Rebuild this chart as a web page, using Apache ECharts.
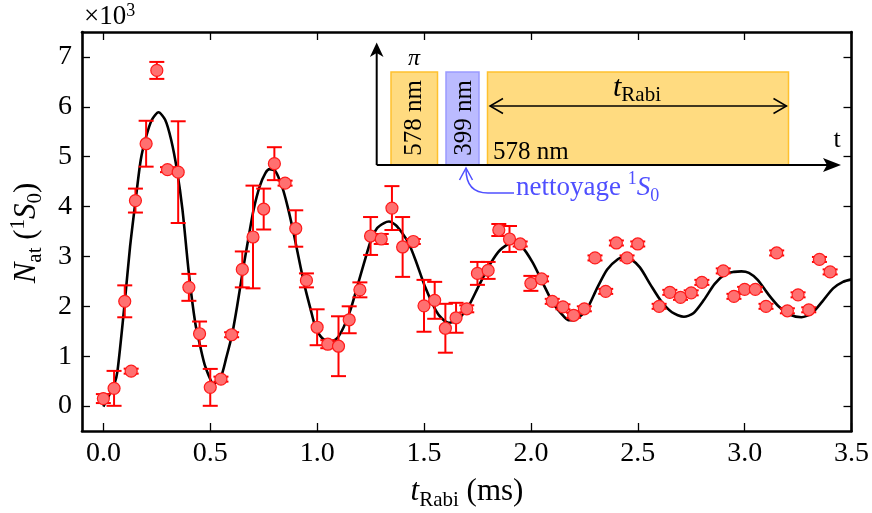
<!DOCTYPE html>
<html><head><meta charset="utf-8">
<script src="https://cdn.jsdelivr.net/npm/echarts@6.0.0/dist/echarts.min.js"></script>
<style>html,body{margin:0;padding:0;background:#fff}#c{width:872px;height:513px}</style>
</head><body><div id="c"></div>
<script>
// measured data (t in ms, N in units of 10^3)
const tData = [0.00,0.05,0.10,0.13,0.15,0.20,0.25,0.30,0.35,0.40,0.45,0.50,0.55,0.60,0.65,0.70,0.75,0.80,0.85,0.90,0.95,1.00,1.05,1.10,1.15,1.20,1.25,1.30,1.35,1.40,1.45,1.50,1.55,1.60,1.65,1.70,1.75,1.80,1.85,1.90,1.95,2.00,2.05,2.10,2.15,2.20,2.25,2.30,2.35,2.40,2.45,2.50,2.60,2.65,2.70,2.75,2.80,2.90,2.95,3.00,3.05,3.10,3.15,3.20,3.25,3.30,3.35,3.40];
const nData = [0.15,0.355,2.10,0.70,4.12,5.26,6.73,4.74,4.69,2.38,1.45,0.375,0.54,1.43,2.74,3.39,3.95,4.86,4.47,3.56,2.52,1.58,1.24,1.20,1.73,2.33,3.41,3.35,3.97,3.19,3.30,2.01,2.12,1.56,1.77,1.95,2.66,2.72,3.53,3.35,3.25,2.46,2.55,2.10,1.99,1.82,1.95,2.97,2.30,3.27,2.97,3.25,2.00,2.28,2.18,2.27,2.48,2.71,2.20,2.34,2.34,2.00,3.07,1.91,2.23,1.93,2.94,2.69];
const nErr = [0.09,0.35,0.32,0.05,0.24,0.46,0.17,0.05,1.02,0.27,0.245,0.37,0.05,0.05,0.36,1.03,0.41,0.33,0.05,0.365,0.14,0.36,0.08,0.60,0.27,0.15,0.38,0.10,0.44,0.60,0.05,0.52,0.37,0.49,0.30,0.07,0.23,0.17,0.12,0.26,0.05,0.15,0.05,0.05,0.05,0.05,0.05,0.05,0.05,0.05,0.05,0.05,0.05,0.05,0.05,0.05,0.05,0.05,0.05,0.05,0.05,0.05,0.05,0.05,0.05,0.05,0.05,0.05];
// fitted curve
const fitT = [0,0.025,0.05,0.066,0.1,0.125,0.15,0.175,0.2,0.227,0.258,0.289,0.317,0.344,0.37,0.40,0.43,0.453,0.477,0.516,0.55,0.575,0.602,0.628,0.653,0.68,0.703,0.731,0.758,0.778,0.805,0.836,0.862,0.89,0.922,0.945,0.969,0.992,1.024,1.063,1.094,1.125,1.156,1.188,1.219,1.25,1.281,1.313,1.336,1.367,1.398,1.43,1.461,1.506,1.555,1.585,1.617,1.655,1.708,1.755,1.81,1.856,1.914,1.957,2.008,2.058,2.106,2.158,2.18,2.21,2.26,2.308,2.357,2.408,2.438,2.46,2.51,2.56,2.61,2.66,2.716,2.76,2.81,2.86,2.911,2.95,2.985,3.02,3.061,3.111,3.161,3.213,3.266,3.314,3.364,3.414,3.46,3.5];
const fitN = [-0.01,0.2,0.42,0.7,2.08,3.2,4.1,4.94,5.4,5.74,5.89,5.74,5.34,4.74,3.94,2.66,1.66,1.2,0.79,0.45,0.59,0.97,1.43,2.06,2.73,3.4,3.94,4.4,4.67,4.75,4.71,4.4,4.0,3.47,2.80,2.35,1.95,1.59,1.36,1.29,1.36,1.59,1.93,2.40,2.86,3.3,3.57,3.67,3.70,3.63,3.47,3.25,2.92,2.38,1.92,1.75,1.67,1.72,2.0,2.4,2.85,3.13,3.28,3.2,2.88,2.45,2.05,1.78,1.72,1.74,1.93,2.35,2.74,2.95,2.99,2.97,2.78,2.43,2.1,1.88,1.79,1.86,2.13,2.45,2.65,2.69,2.70,2.67,2.53,2.24,1.99,1.83,1.78,1.86,2.10,2.36,2.49,2.54];
const xTicks = [0.0,0.5,1.0,1.5,2.0,2.5,3.0,3.5];
const yTicks = [0,1,2,3,4,5,6,7];

const FF = '"Liberation Serif","DejaVu Serif",serif';
const chart = echarts.init(document.getElementById('c'));

function axisBase(){
  return {type:'value',
    axisLine:{show:true,onZero:false,lineStyle:{color:'#000',width:2.6}},
    splitLine:{show:false}};
}
function xAx(pos, labels){
  const a = axisBase();
  a.min=-0.1; a.max=3.5; a.position=pos;
  a.axisTick={show:true,inside:true,length:8,lineStyle:{color:'#000',width:1.3},customValues:xTicks};
  a.axisLabel={show:labels,customValues:xTicks,formatter:v=>Number(v).toFixed(1),color:'#000',fontFamily:FF,fontSize:28,margin:9};
  return a;
}
function yAx(pos, labels){
  const a = axisBase();
  a.min=-0.5; a.max=7.5; a.position=pos;
  a.axisTick={show:true,inside:true,length:8,lineStyle:{color:'#000',width:1.3},customValues:yTicks};
  a.axisLabel={show:labels,customValues:yTicks,formatter:v=>String(v),color:'#000',fontFamily:FF,fontSize:28,margin:10};
  return a;
}

const pts = tData.map((t,i)=>[t,nData[i],nErr[i]]);
const fit = fitT.map((t,i)=>[t,fitN[i]]);

const orangeFill = '#FFDB80', orangeStroke = '#FFC12E';
const blue = '#4F4FFF';
const supSub = {
  m:{fontSize:27,fontFamily:FF,lineHeight:35,fill:blue},
  mi:{fontSize:27,fontFamily:FF,fontStyle:'italic',lineHeight:35,fill:blue},
  sp:{fontSize:18,fontFamily:FF,verticalAlign:'top',lineHeight:18,fill:blue},
  sb:{fontSize:18,fontFamily:FF,verticalAlign:'bottom',lineHeight:18,fill:blue}
};

const graphics = [
  {type:'text',x:84,y:17,style:{text:'{m|×10}{sp|3}',verticalAlign:'middle',align:'left',
    rich:{m:{fontSize:27,fontFamily:FF,lineHeight:30,fill:'#000'},sp:{fontSize:18,fontFamily:FF,verticalAlign:'top',lineHeight:18,fill:'#000'}}}},
  {type:'text',x:27,y:233,rotation:Math.PI/2,style:{text:'{i|N}{s|at}{m| (}{p|1}{i|S}{s|0}{m|)}',align:'center',verticalAlign:'middle',
    rich:{i:{fontSize:31,fontFamily:FF,fontStyle:'italic',lineHeight:38,fill:'#000'},
          m:{fontSize:31,fontFamily:FF,lineHeight:38,fill:'#000'},
          s:{fontSize:21,fontFamily:FF,verticalAlign:'bottom',lineHeight:21,fill:'#000'},
          p:{fontSize:21,fontFamily:FF,verticalAlign:'top',lineHeight:21,fill:'#000'}}}},
  {type:'text',x:467,y:492,style:{text:'{i|t}{s|Rabi}{m| (ms)}',align:'center',verticalAlign:'middle',
    rich:{i:{fontSize:31,fontFamily:FF,fontStyle:'italic',lineHeight:38,fill:'#000'},
          m:{fontSize:31,fontFamily:FF,lineHeight:38,fill:'#000'},
          s:{fontSize:21,fontFamily:FF,verticalAlign:'bottom',lineHeight:21,fill:'#000'}}}},
  {type:'rect',shape:{x:391,y:72,width:46.5,height:93},style:{fill:orangeFill,stroke:orangeStroke,lineWidth:1.5}},
  {type:'rect',shape:{x:446,y:72,width:33,height:93},style:{fill:'#BBBBFF',stroke:'#9A9AFF',lineWidth:1.5}},
  {type:'rect',shape:{x:487.5,y:72,width:301,height:93},style:{fill:orangeFill,stroke:orangeStroke,lineWidth:1.5}},
  {type:'line',shape:{x1:376.7,y1:165,x2:376.7,y2:52},style:{stroke:'#000',lineWidth:2}},
  {type:'line',shape:{x1:376.7,y1:165,x2:830,y2:165},style:{stroke:'#000',lineWidth:2}},
  {type:'polygon',shape:{points:[[376.7,42.5],[383.5,57],[376.7,53],[369.9,57]]},style:{fill:'#000'}},
  {type:'polygon',shape:{points:[[841,165],[823,158],[827,165],[823,172]]},style:{fill:'#000'}},
  {type:'line',shape:{x1:490,y1:106,x2:786.5,y2:106},style:{stroke:'#000',lineWidth:1.5}},
  {type:'polyline',shape:{points:[[503,98.5],[490,106],[503,113.5]]},style:{stroke:'#000',lineWidth:1.5,fill:null}},
  {type:'polyline',shape:{points:[[773.5,98.5],[786.5,106],[773.5,113.5]]},style:{stroke:'#000',lineWidth:1.5,fill:null}},
  {type:'text',x:414,y:118,rotation:Math.PI/2,style:{text:'578 nm',font:'25px '+FF,fill:'#000',align:'center',verticalAlign:'middle'}},
  {type:'text',x:464,y:118,rotation:Math.PI/2,style:{text:'399 nm',font:'25px '+FF,fill:'#000',align:'center',verticalAlign:'middle'}},
  {type:'text',x:493,y:152,style:{text:'578 nm',font:'25px '+FF,fill:'#000',align:'left',verticalAlign:'middle'}},
  {type:'text',x:837,y:140,style:{text:'t',font:'26px '+FF,fill:'#000',align:'center',verticalAlign:'middle'}},
  {type:'text',x:414,y:59,style:{text:'π',font:'italic 24px '+FF,fill:'#000',align:'center',verticalAlign:'middle'}},
  {type:'text',x:637,y:88,style:{text:'{i|t}{s|Rabi}',align:'center',verticalAlign:'middle',
    rich:{i:{fontSize:30,fontFamily:FF,fontStyle:'italic',lineHeight:36,fill:'#000'},
          s:{fontSize:21,fontFamily:FF,verticalAlign:'bottom',lineHeight:21,fill:'#000'}}}},
  {type:'text',x:516,y:188,style:{text:'{m|nettoyage }{sp|1}{mi|S}{sb|0}',align:'left',verticalAlign:'middle',rich:supSub}},
  {type:'line',shape:{x1:514,y1:193,x2:488,y2:193},style:{stroke:blue,lineWidth:1.5}},
  {type:'bezierCurve',shape:{x1:488,y1:193,cpx1:466,cpy1:193,x2:466,y2:169},style:{stroke:blue,lineWidth:1.5,fill:null}},
  {type:'polyline',shape:{points:[[459.5,180],[466,168],[472.5,180]]},style:{stroke:blue,lineWidth:1.5,fill:null}}
];

chart.setOption({
  animation:false,
  backgroundColor:'#fff',
  grid:{left:82,right:19,top:32,bottom:82},
  xAxis:[xAx('bottom',true), xAx('top',false)],
  yAxis:[yAx('left',true), yAx('right',false)],
  series:[
    {type:'line',data:fit,showSymbol:false,smooth:0.25,lineStyle:{color:'#000',width:2.6},z:2,silent:true},
    {type:'custom',data:pts,encode:{x:0,y:1},z:3,silent:true,
      renderItem:function(params,api){
        const x=api.value(0), y=api.value(1), e=api.value(2);
        const top=api.coord([x,y+e]), bot=api.coord([x,y-e]);
        const hw=7.5, st={stroke:'#FF0000',lineWidth:2};
        return {type:'group',children:[
          {type:'line',shape:{x1:top[0],y1:top[1],x2:bot[0],y2:bot[1]},style:st},
          {type:'line',shape:{x1:top[0]-hw,y1:top[1],x2:top[0]+hw,y2:top[1]},style:st},
          {type:'line',shape:{x1:bot[0]-hw,y1:bot[1],x2:bot[0]+hw,y2:bot[1]},style:st}
        ]};
      }},
    {type:'scatter',data:pts.map(p=>[p[0],p[1]]),symbol:'circle',symbolSize:12,z:4,silent:true,
      itemStyle:{color:'#FF7070',borderColor:'#FF1A1A',borderWidth:1.2,opacity:1}}
  ],
  graphic:{elements:graphics}
});
</script>
</body></html>
